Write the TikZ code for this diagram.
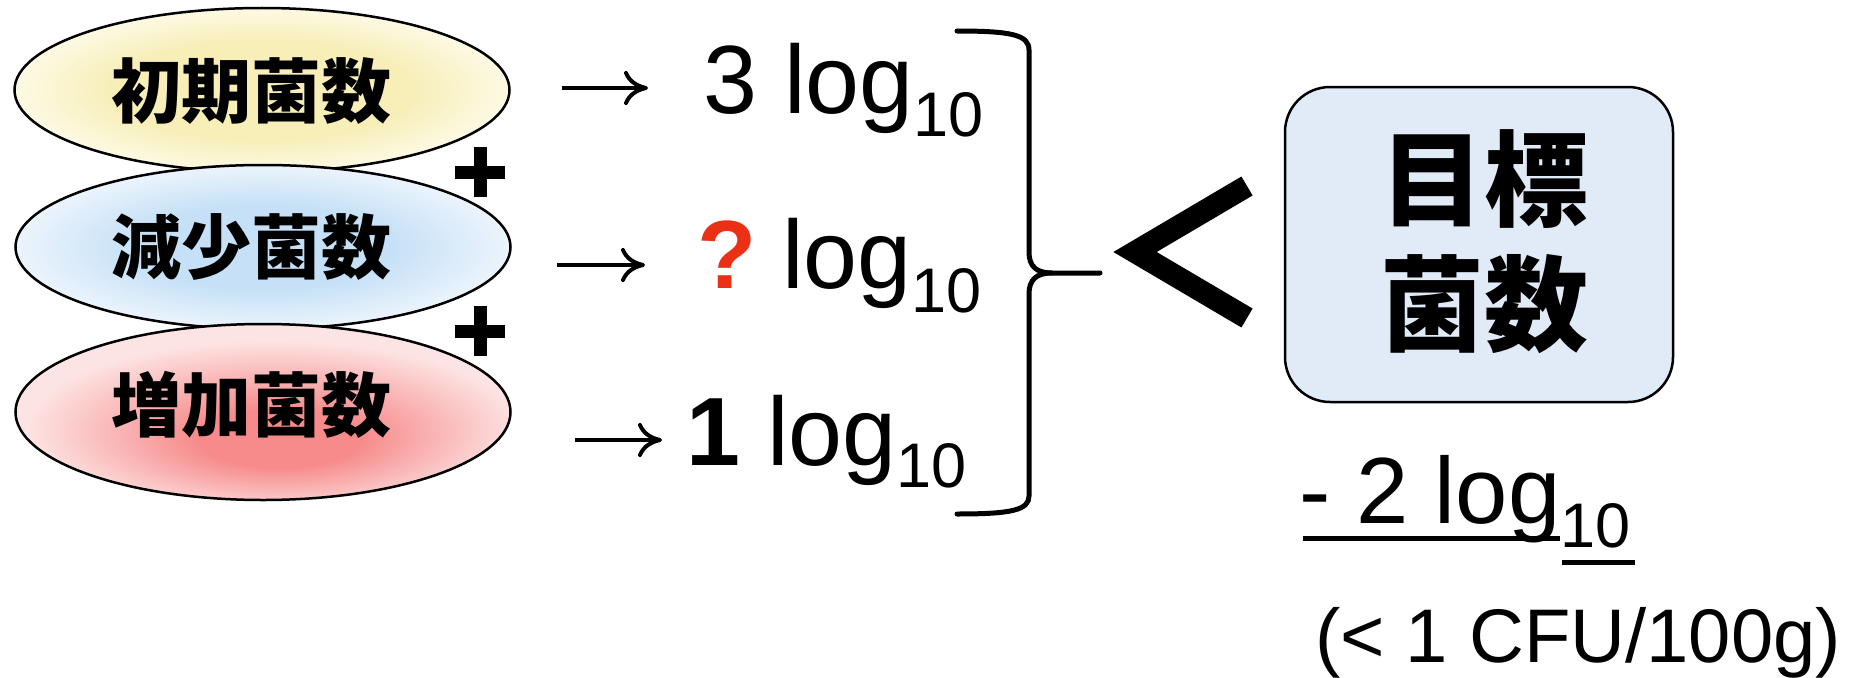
\documentclass[tikz,border=0pt]{standalone}
\usepackage{fontspec}
\setmainfont{Liberation Sans}
\newfontfamily\jp{Noto Sans CJK JP}
\usetikzlibrary{shapes.geometric,arrows.meta}
\definecolor{yin}{RGB}{247,238,184}
\definecolor{yout}{RGB}{253,250,228}
\definecolor{bin}{RGB}{198,225,247}
\definecolor{bout}{RGB}{236,244,252}
\definecolor{rin}{RGB}{247,138,138}
\definecolor{rout}{RGB}{253,228,228}
\definecolor{qred}{RGB}{236,48,22}
\definecolor{boxfill}{RGB}{224,235,247}
\pgfdeclareradialshading{shyel}{\pgfpoint{0bp}{0bp}}{color(0bp)=(yin); color(15bp)=(yin); color(25bp)=(yout); color(50bp)=(yout)}
\pgfdeclareradialshading{shblue}{\pgfpoint{0bp}{0bp}}{color(0bp)=(bin); color(13bp)=(bin); color(25bp)=(bout); color(50bp)=(bout)}
\pgfdeclareradialshading{shred}{\pgfpoint{2bp}{-9bp}}{color(0bp)=(rin); color(8bp)=(rin); color(25bp)=(rout); color(50bp)=(rout)}
\newcommand\lsub[1]{\raisebox{-24pt}{\fontsize{63}{63}\selectfont #1}}
\begin{document}
\begin{tikzpicture}[x=1pt,y=-1pt,
  ell/.style={ellipse, draw=black, line width=2.5pt, inner sep=0pt, minimum width=495pt},
  jlabel/.style={font=\jp\bfseries\fontsize{70}{70}\selectfont, inner sep=0pt},
  val/.style={anchor=base west, inner sep=0pt, font=\fontsize{97}{97}\selectfont},
  arr/.style={line width=4pt, -{Computer Modern Rightarrow[length=24pt,width=34pt,line width=4pt]}},
  plussign/.style={line width=13pt},
  bracestroke/.style={line width=5pt, line cap=round}
]
\useasboundingbox (0,0) rectangle (1857,677);
% ellipses
\node[ell, minimum height=164pt, shading=shyel] (e1) at (262,90) {};
\node[ell, minimum height=164pt, shading=shblue] (e2) at (263,247) {};
\node[ell, minimum height=176pt, shading=shred] (e3) at (263,412) {};
\node[jlabel] (l1) at (251,91) {初期菌数};
\node[jlabel] (l2) at (251,247) {減少菌数};
\node[jlabel] (l3) at (251,405) {増加菌数};
% plus signs
\draw[plussign] (455,172) -- (505,172) (480,147) -- (480,197);
\draw[plussign] (455,331) -- (505,331) (480,306) -- (480,356);
% arrows
\coordinate (a1s) at (562,88);  \coordinate (a1e) at (648,88);
\coordinate (a2s) at (557,265); \coordinate (a2e) at (645,265);
\coordinate (a3s) at (575,440); \coordinate (a3e) at (662,440);
\draw[arr] (a1s) -- (a1e);
\draw[arr] (a2s) -- (a2e);
\draw[arr] (a3s) -- (a3e);
% values
\node[val] (v1) at (703,113) {3 log\lsub{10}};
\node[val] (v2) at (697,288) {\textcolor{qred}{\bfseries ?}\kern-10pt{} log\lsub{10}};
\node[val] (v3) at (686,465) {\textbf{1} log\raisebox{-22pt}{\fontsize{63}{63}\selectfont 10}};
% brace
\coordinate (btip) at (1100,273);
\draw[bracestroke] (957,31) .. controls (1012,31) and (1029,35) .. (1029,50) -- (1029,252) .. controls (1029,266) and (1036,273) .. (1052,273) -- (btip);
\draw[bracestroke] (1052,273) .. controls (1036,273) and (1029,280) .. (1029,294) -- (1029,496) .. controls (1029,510) and (1012,514) .. (957,514);
% less-than sign
\draw[line width=22pt, miter limit=10] (1247,186) -- (1135,252) -- (1247,318);
% target box
\node[draw, line width=2.5pt, rounded corners=45pt, fill=boxfill, minimum width=388pt, minimum height=315pt, inner sep=0pt] (target) at (1479,244.5) {};
\node[font=\jp\bfseries\fontsize{104}{125}\selectfont, align=center, inner sep=0pt] (ttext) at (1484,242) {目標\\菌数};
% -2 log10
\node[anchor=base west, inner sep=0pt, font=\fontsize{94}{94}\selectfont] (m2) at (1299,523) {- 2 log\lsub{10}};
\draw[line width=5pt] (1303,538) -- (1560,538);
\draw[line width=5pt] (1562,562) -- (1635,562);
\node[anchor=base west, inner sep=0pt, font=\fontsize{76}{76}\selectfont] (cfu) at (1315,662) {(< 1 CFU/100g)};
\end{tikzpicture}
\end{document}
